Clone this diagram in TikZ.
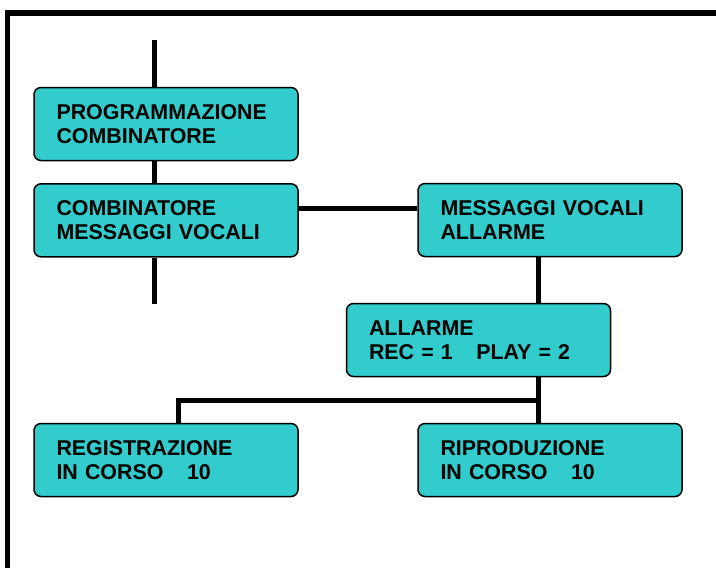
\documentclass[tikz,border=0pt]{standalone}
\usepackage{fontspec}
\setmainfont{Liberation Sans}
\definecolor{boxfill}{RGB}{51,204,204}
\begin{document}
\begin{tikzpicture}[x=1pt,y=-1pt,
  box/.style={draw=black, line width=1.5pt, fill=boxfill, rounded corners=7pt,
    minimum width=264pt, minimum height=73pt, text width=219pt, inner xsep=22.5pt,
    inner ysep=0pt, align=left, font=\fontsize{21.4}{24}\selectfont\bfseries},
  conn/.style={line width=5pt}]
\useasboundingbox (0,0) rectangle (716,568);
\begin{scope}
\clip (0,0) rectangle (716,568);
\draw[line width=5.5pt] (7.5,13) rectangle (740,600);
\end{scope}
\node[box] (b1) at (166,124) {PROGRAMMAZIONE\\COMBINATORE};
\node[box] (b2) at (166,220.3) {COMBINATORE\\MESSAGGI VOCALI};
\node[box] (b3) at (550,220) {MESSAGGI VOCALI\\ALLARME};
\node[box] (b4) at (478.5,340) {ALLARME\\REC = 1\hspace{1.1em}PLAY = 2};
\node[box] (b5) at (166,460) {REGISTRAZIONE\\IN CORSO\hspace{1.1em}10};
\node[box] (b6) at (550,460) {RIPRODUZIONE\\IN CORSO\hspace{1.1em}10};
\coordinate (ltop) at (154.5,40);
\coordinate (lbot) at (154.5,304);
\coordinate (rx) at (538.7,0);
\coordinate (jr) at (538.7,400.7);
\coordinate (jl) at (178.7,400.7);
\draw[conn] (ltop) -- (ltop |- b1.north);
\draw[conn] (ltop |- b1.south) -- (ltop |- b2.north);
\draw[conn] (ltop |- b2.south) -- (lbot);
\draw[conn] ([yshift=12.3pt]b2.east) -- ([yshift=12.3pt]b2.east -| b3.west);
\draw[conn] (b3.south -| rx) -- (b4.north -| rx);
\draw[conn] (b4.south -| rx) -- (b6.north -| rx);
\draw[conn] (jr) -- (jl) -- (jl |- b5.north);
\end{tikzpicture}
\end{document}
